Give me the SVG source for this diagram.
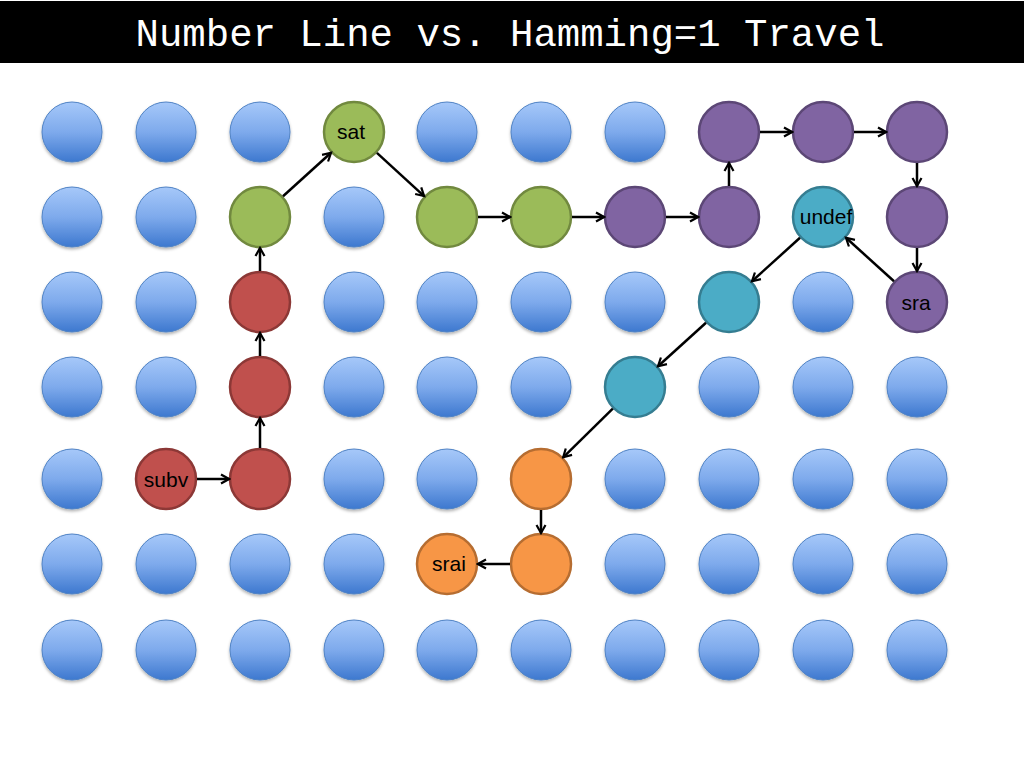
<svg xmlns="http://www.w3.org/2000/svg" width="1024" height="768" viewBox="0 0 1024 768">
<defs>
<linearGradient id="blueg" x1="0" y1="0" x2="0" y2="1">
<stop offset="0" stop-color="#A6C8F9"/>
<stop offset="0.5" stop-color="#7EAAEC"/>
<stop offset="1" stop-color="#3D78CF"/>
</linearGradient>
<filter id="sh" x="-20%" y="-20%" width="140%" height="150%">
<feDropShadow dx="0" dy="2" stdDeviation="1.5" flood-color="#000" flood-opacity="0.3"/>
</filter>
<marker id="arr" markerUnits="userSpaceOnUse" viewBox="0 0 12 12" refX="10" refY="6" markerWidth="12" markerHeight="12" orient="auto">
<path d="M2,1.5 L10,6 L2,10.5" fill="none" stroke="#000" stroke-width="2.2" stroke-linejoin="miter"/>
</marker>
<style>
.b{fill:url(#blueg);stroke:#4F82C4;stroke-width:1;filter:url(#sh)}
.r{fill:#C0504D;stroke:#8C3836;stroke-width:2.5}
.g{fill:#9BBB59;stroke:#71893F;stroke-width:2.5}
.p{fill:#8064A2;stroke:#5C4776;stroke-width:2.5}
.t{fill:#4BACC6;stroke:#357D91;stroke-width:2.5}
.o{fill:#F79646;stroke:#B66D31;stroke-width:2.5}
.lbl{font-family:"Liberation Sans",Arial,sans-serif;font-size:21px;fill:#000;text-anchor:middle}
.ttl{font-family:"Liberation Mono","DejaVu Sans Mono",monospace;font-size:39px;fill:#fff;text-anchor:middle}
#connectors line{stroke:#000;stroke-width:2.5;marker-end:url(#arr)}
</style>
</defs>
<rect x="0" y="0" width="1024" height="768" fill="#fff"/>
<g id="title">
<rect x="0" y="1" width="1024" height="62" fill="#000"/>
<text class="ttl" x="510" y="46">Number Line vs. Hamming=1 Travel</text>
</g>
<g id="nodes">
<g id="n1-1"><circle class="b" cx="72" cy="132" r="30"/></g>
<g id="n1-2"><circle class="b" cx="166" cy="132" r="30"/></g>
<g id="n1-3"><circle class="b" cx="260" cy="132" r="30"/></g>
<g id="n1-4"><circle class="g" cx="354" cy="132" r="30"/><text class="lbl" x="351" y="139">sat</text></g>
<g id="n1-5"><circle class="b" cx="447" cy="132" r="30"/></g>
<g id="n1-6"><circle class="b" cx="541" cy="132" r="30"/></g>
<g id="n1-7"><circle class="b" cx="635" cy="132" r="30"/></g>
<g id="n1-8"><circle class="p" cx="729" cy="132" r="30"/></g>
<g id="n1-9"><circle class="p" cx="823" cy="132" r="30"/></g>
<g id="n1-10"><circle class="p" cx="917" cy="132" r="30"/></g>

<g id="n2-1"><circle class="b" cx="72" cy="217" r="30"/></g>
<g id="n2-2"><circle class="b" cx="166" cy="217" r="30"/></g>
<g id="n2-3"><circle class="g" cx="260" cy="217" r="30"/></g>
<g id="n2-4"><circle class="b" cx="354" cy="217" r="30"/></g>
<g id="n2-5"><circle class="g" cx="447" cy="217" r="30"/></g>
<g id="n2-6"><circle class="g" cx="541" cy="217" r="30"/></g>
<g id="n2-7"><circle class="p" cx="635" cy="217" r="30"/></g>
<g id="n2-8"><circle class="p" cx="729" cy="217" r="30"/></g>
<g id="n2-9"><circle class="t" cx="823" cy="217" r="30"/><text class="lbl" x="826" y="224">undef</text></g>
<g id="n2-10"><circle class="p" cx="917" cy="217" r="30"/></g>

<g id="n3-1"><circle class="b" cx="72" cy="302" r="30"/></g>
<g id="n3-2"><circle class="b" cx="166" cy="302" r="30"/></g>
<g id="n3-3"><circle class="r" cx="260" cy="302" r="30"/></g>
<g id="n3-4"><circle class="b" cx="354" cy="302" r="30"/></g>
<g id="n3-5"><circle class="b" cx="447" cy="302" r="30"/></g>
<g id="n3-6"><circle class="b" cx="541" cy="302" r="30"/></g>
<g id="n3-7"><circle class="b" cx="635" cy="302" r="30"/></g>
<g id="n3-8"><circle class="t" cx="729" cy="302" r="30"/></g>
<g id="n3-9"><circle class="b" cx="823" cy="302" r="30"/></g>
<g id="n3-10"><circle class="p" cx="917" cy="302" r="30"/><text class="lbl" x="916" y="310">sra</text></g>

<g id="n4-1"><circle class="b" cx="72" cy="387" r="30"/></g>
<g id="n4-2"><circle class="b" cx="166" cy="387" r="30"/></g>
<g id="n4-3"><circle class="r" cx="260" cy="387" r="30"/></g>
<g id="n4-4"><circle class="b" cx="354" cy="387" r="30"/></g>
<g id="n4-5"><circle class="b" cx="447" cy="387" r="30"/></g>
<g id="n4-6"><circle class="b" cx="541" cy="387" r="30"/></g>
<g id="n4-7"><circle class="t" cx="635" cy="387" r="30"/></g>
<g id="n4-8"><circle class="b" cx="729" cy="387" r="30"/></g>
<g id="n4-9"><circle class="b" cx="823" cy="387" r="30"/></g>
<g id="n4-10"><circle class="b" cx="917" cy="387" r="30"/></g>

<g id="n5-1"><circle class="b" cx="72" cy="479" r="30"/></g>
<g id="n5-2"><circle class="r" cx="166" cy="479" r="30"/><text class="lbl" x="166" y="487">subv</text></g>
<g id="n5-3"><circle class="r" cx="260" cy="479" r="30"/></g>
<g id="n5-4"><circle class="b" cx="354" cy="479" r="30"/></g>
<g id="n5-5"><circle class="b" cx="447" cy="479" r="30"/></g>
<g id="n5-6"><circle class="o" cx="541" cy="479" r="30"/></g>
<g id="n5-7"><circle class="b" cx="635" cy="479" r="30"/></g>
<g id="n5-8"><circle class="b" cx="729" cy="479" r="30"/></g>
<g id="n5-9"><circle class="b" cx="823" cy="479" r="30"/></g>
<g id="n5-10"><circle class="b" cx="917" cy="479" r="30"/></g>

<g id="n6-1"><circle class="b" cx="72" cy="564" r="30"/></g>
<g id="n6-2"><circle class="b" cx="166" cy="564" r="30"/></g>
<g id="n6-3"><circle class="b" cx="260" cy="564" r="30"/></g>
<g id="n6-4"><circle class="b" cx="354" cy="564" r="30"/></g>
<g id="n6-5"><circle class="o" cx="447" cy="564" r="30"/><text class="lbl" x="449" y="571">srai</text></g>
<g id="n6-6"><circle class="o" cx="541" cy="564" r="30"/></g>
<g id="n6-7"><circle class="b" cx="635" cy="564" r="30"/></g>
<g id="n6-8"><circle class="b" cx="729" cy="564" r="30"/></g>
<g id="n6-9"><circle class="b" cx="823" cy="564" r="30"/></g>
<g id="n6-10"><circle class="b" cx="917" cy="564" r="30"/></g>

<g id="n7-1"><circle class="b" cx="72" cy="650" r="30"/></g>
<g id="n7-2"><circle class="b" cx="166" cy="650" r="30"/></g>
<g id="n7-3"><circle class="b" cx="260" cy="650" r="30"/></g>
<g id="n7-4"><circle class="b" cx="354" cy="650" r="30"/></g>
<g id="n7-5"><circle class="b" cx="447" cy="650" r="30"/></g>
<g id="n7-6"><circle class="b" cx="541" cy="650" r="30"/></g>
<g id="n7-7"><circle class="b" cx="635" cy="650" r="30"/></g>
<g id="n7-8"><circle class="b" cx="729" cy="650" r="30"/></g>
<g id="n7-9"><circle class="b" cx="823" cy="650" r="30"/></g>
<g id="n7-10"><circle class="b" cx="917" cy="650" r="30"/></g>
</g>
<g id="connectors">
<line x1="197" y1="479" x2="229" y2="479"/>
<line x1="260" y1="448" x2="260" y2="418"/>
<line x1="260" y1="356" x2="260" y2="333"/>
<line x1="260" y1="271" x2="260" y2="248"/>
<line x1="283" y1="196.2" x2="331" y2="152.8"/>
<line x1="376.9" y1="152.9" x2="424.1" y2="196.1"/>
<line x1="478" y1="217" x2="510" y2="217"/>
<line x1="572" y1="217" x2="604" y2="217"/>
<line x1="666" y1="217" x2="698" y2="217"/>
<line x1="729" y1="186" x2="729" y2="163"/>
<line x1="760" y1="132" x2="792" y2="132"/>
<line x1="854" y1="132" x2="886" y2="132"/>
<line x1="917" y1="163" x2="917" y2="186"/>
<line x1="917" y1="248" x2="917" y2="271"/>
<line x1="894" y1="281.2" x2="846" y2="237.8"/>
<line x1="800" y1="237.8" x2="752" y2="281.2"/>
<line x1="706" y1="322.8" x2="658" y2="366.2"/>
<line x1="612.8" y1="408.7" x2="563.2" y2="457.3"/>
<line x1="541" y1="510" x2="541" y2="533"/>
<line x1="510" y1="564" x2="478" y2="564"/>
</g>
</svg>
